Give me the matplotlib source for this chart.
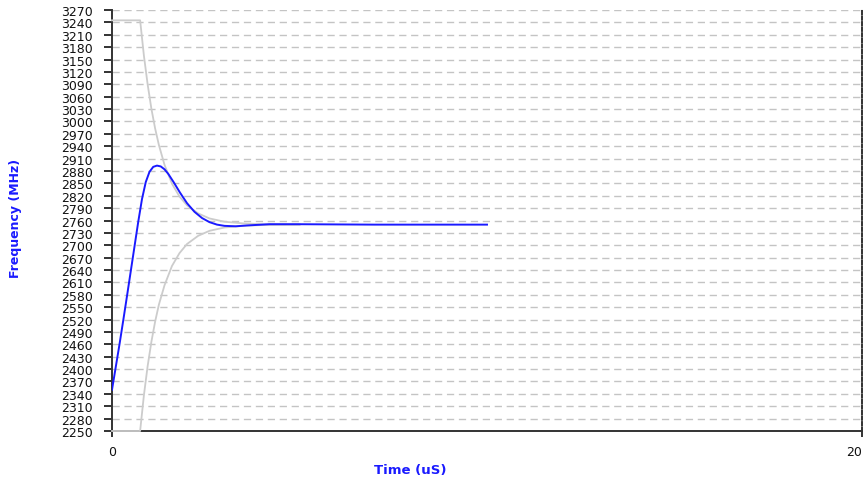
import matplotlib
matplotlib.use("Agg")
import matplotlib.pyplot as plt

plt.rcParams['lines.scale_dashes'] = False

# Frequency response of the PLL (blue) and the settling envelope (grey)
time_us = [0.0, 0.1, 0.2, 0.3, 0.4, 0.5, 0.6, 0.7, 0.8, 0.9, 1.0, 1.1,
           1.2, 1.3, 1.4, 1.5, 1.65, 1.81, 2.0, 2.2, 2.4, 2.6, 2.8, 3.0,
           3.3, 3.6, 4.2, 5.0, 7.0, 10.0]
freq_mhz = [2350, 2405, 2460, 2518, 2577, 2637, 2697, 2757, 2812, 2853, 2878, 2890,
            2893, 2891, 2884, 2873, 2852, 2828, 2802, 2781, 2766, 2756, 2750, 2747,
            2746, 2748, 2751, 2751, 2750, 2750]

env_time = [0.0, 0.75, 0.85, 0.95, 1.05, 1.15, 1.25, 1.4, 1.6, 1.8, 2.0, 2.3,
            2.6, 3.0, 3.5, 4.0, 5.0]
env_upper = [3245, 3245, 3160, 3090, 3031, 2983, 2943, 2895, 2849, 2818, 2797, 2777,
             2765, 2757, 2753, 2751, 2750]
env_lower = [2250, 2250, 2336, 2407, 2466, 2515, 2556, 2603, 2650, 2681, 2703, 2723,
             2735, 2743, 2747, 2749, 2750]

y_ticks = list(range(2250, 3271, 30))
x_ticks = [0, 20]

W, H = 868, 481
fig = plt.figure(figsize=(W / 100, H / 100), dpi=100)
ax = fig.add_axes([112 / W, 1 - 432 / H, (862 - 112) / W, (432 - 11) / H])

ax.set_xlim(0, 20)
ax.set_ylim(2250, 3270)

# dashed horizontal grid
for yv in y_ticks:
    ax.axhline(yv, color='#c4c4c4', lw=1.0, dashes=(5.2, 3.4), zorder=0)

ax.plot(env_time, env_upper, color='#cccccc', lw=1.3, zorder=4, clip_on=False)
ax.plot(env_time, env_lower, color='#cccccc', lw=1.3, zorder=4, clip_on=False)
ax.plot(time_us, freq_mhz, color='#1a1aff', lw=1.4, zorder=5)

ax.set_yticks(y_ticks)
ax.set_yticklabels([str(v) for v in y_ticks])
ax.set_xticks(x_ticks)
ax.set_xticklabels([str(v) for v in x_ticks])
ax.tick_params(axis='y', length=6, width=1.3, color='#222222', pad=8,
               labelsize=9, labelcolor='#111111')
ax.tick_params(axis='x', length=4, width=1.3, color='#222222', pad=6,
               labelsize=9, labelcolor='#111111')
# keep the last time label inside the figure edge
ax.get_xticklabels()[-1].set_horizontalalignment('right')
ax.get_xticklabels()[-1].set_x(20)

for side in ('left', 'bottom'):
    ax.spines[side].set_color('#333333')
    ax.spines[side].set_linewidth(1.4)
    ax.spines[side].set_zorder(3)
ax.spines['top'].set_visible(False)
ax.spines['right'].set_color('#222222')
ax.spines['right'].set_linewidth(1.3)
ax.spines['right'].set_linestyle((0, (2.5, 1.5)))

fig.text(16 / W, 1 - 218 / H, 'Frequency (MHz)', rotation=90, color='#1a1aff',
         fontsize=9, fontweight='bold', ha='center', va='center')
fig.text(410 / W, 1 - 471 / H, 'Time (uS)', color='#1a1aff',
         fontsize=9.5, fontweight='bold', ha='center', va='center')

fig.savefig('out.png', dpi=100)
